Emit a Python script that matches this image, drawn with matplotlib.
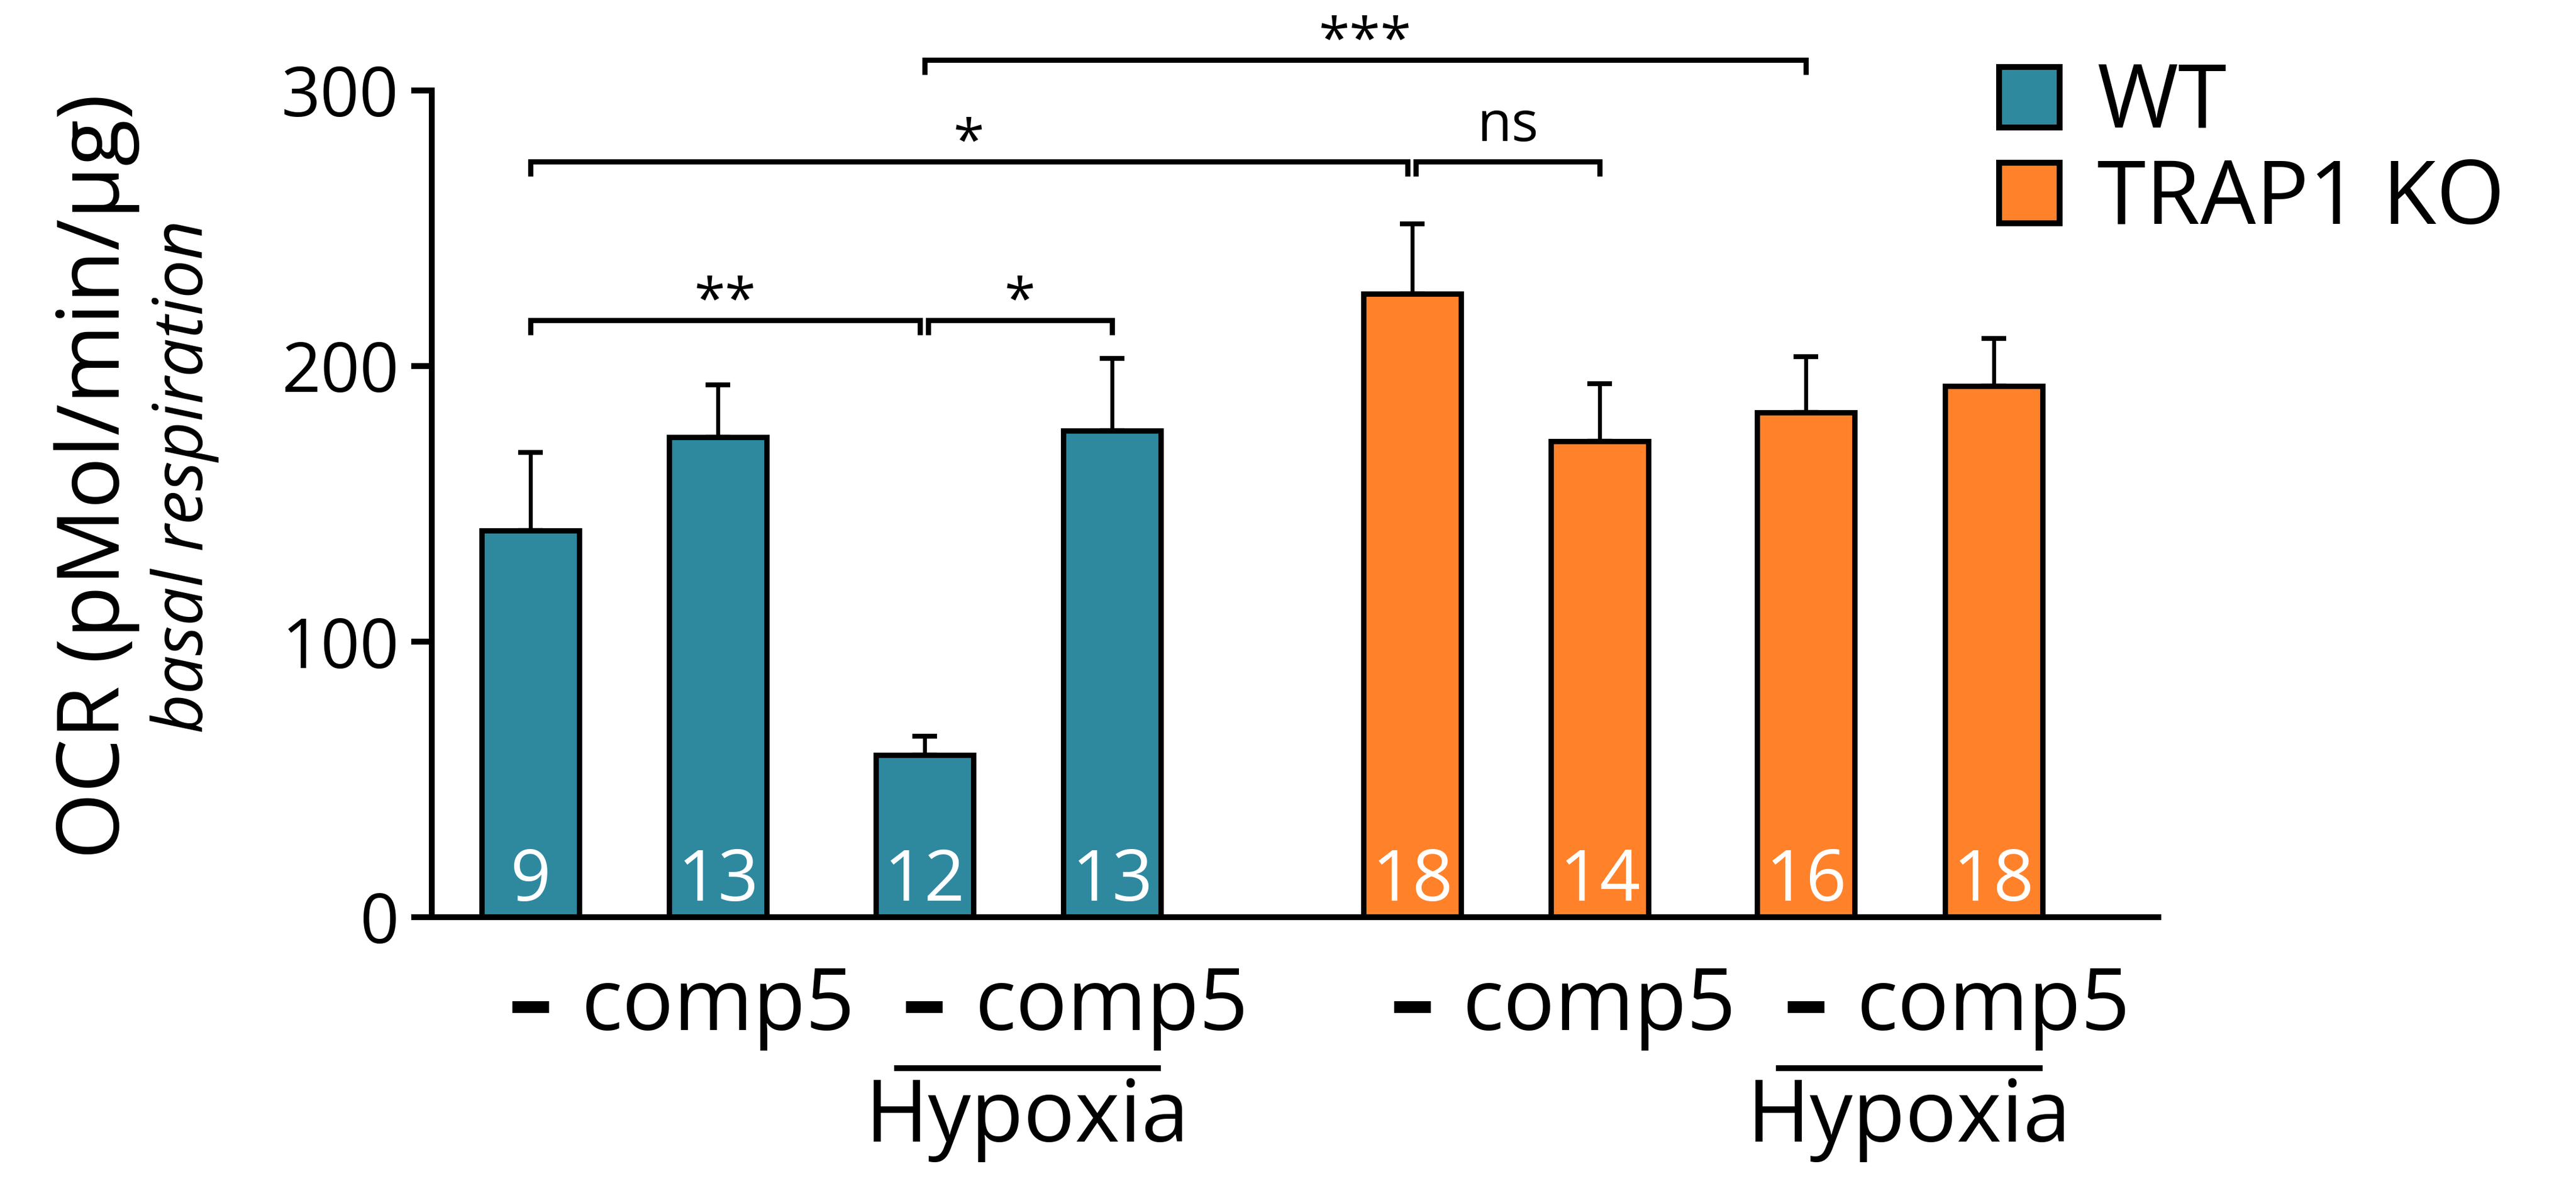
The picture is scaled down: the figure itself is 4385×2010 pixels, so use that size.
import matplotlib
matplotlib.use("Agg")
import matplotlib.pyplot as plt
import matplotlib.transforms as mtransforms
from matplotlib.patches import Rectangle
import numpy as np

plt.rcParams['font.family'] = ['Open Sans', 'DejaVu Sans']

# ---------------- data ----------------
genotypes = ['WT', 'TRAP1 KO']
treatments = ['–', 'comp5', '–', 'comp5']
condition_label = 'Hypoxia'
wt_mean = [140.3, 174.2, 58.8, 176.5]
wt_sem = [28.3, 19.0, 6.9, 26.3]
wt_n = [9, 13, 12, 13]
ko_mean = [226.3, 172.8, 183.1, 192.8]
ko_sem = [25.3, 20.7, 20.4, 17.2]
ko_n = [18, 14, 16, 18]
# (bar i, bar j, label, bracket height)
comparisons = [(0, 2, '**', 216.6), (2, 3, '*', 216.6),
               (0, 4, '*', 274.1), (4, 5, 'ns', 274.1),
               (2, 6, '***', 311.1)]
y_ticks = [0, 100, 200, 300]
y_label = 'OCR (pMol/min/µg)'
y_sublabel = 'basal respiration'

colors = ['#2E899F', '#FF822B']

# ---------------- layout ----------------
W, H = 4385, 2010
fig = plt.figure(figsize=(W / 300, H / 300), dpi=300)
ax = fig.add_axes([735 / W, 1 - 1561 / H, (3674 - 735) / W, (1561 - 154) / H])

within = [0.0, 1.0, 2.1, 3.1]
group_off = 4.7
pos = [g * group_off + o for g in range(2) for o in within]
means = wt_mean + ko_mean
sems = wt_sem + ko_sem
ns_ = wt_n + ko_n
bar_cols = [colors[0]] * 4 + [colors[1]] * 4

ax.errorbar(pos, means, yerr=[np.zeros(len(sems)), sems], fmt='none',
            ecolor='black', elinewidth=1.6, capsize=5, capthick=2.0, zorder=1)
ax.bar(pos, means, width=0.52, color=bar_cols, edgecolor='black',
       linewidth=2.2, zorder=2)

for x, n in zip(pos, ns_):
    ax.text(x, 6.0, str(n), color='white', fontsize=29, ha='center',
            va='baseline', zorder=3)

ax.set_xlim(-0.526, 8.678)
ax.set_ylim(0, 300)
ax.set_yticks(y_ticks)
ax.set_yticklabels([str(t) for t in y_ticks], fontsize=28)
ax.tick_params(axis='y', length=8.4, width=2.4, pad=5)
ax.tick_params(axis='x', length=0, labelbottom=False)
for s in ['top', 'right']:
    ax.spines[s].set_visible(False)
for s in ['left', 'bottom']:
    ax.spines[s].set_linewidth(2.4)
    ax.spines[s].set_zorder(4)

# x category labels
trans = mtransforms.blended_transform_factory(ax.transData, fig.transFigure)
for x, lab in zip(pos, treatments * 2):
    ax.text(x, 1 - 1753 / H, lab, transform=trans, fontsize=35, ha='center',
            va='baseline', fontweight='heavy' if lab == '–' else 'normal')
# hypoxia lines
for g in range(2):
    x0 = pos[g * 4 + 2] - 0.16
    x1 = pos[g * 4 + 3] + 0.26
    ax.plot([x0, x1], [1 - 1818 / H] * 2, transform=trans, color='black',
            lw=2.4, clip_on=False, solid_capstyle='butt')
    ax.text((x0 + x1) / 2, 1 - 1943 / H, condition_label, transform=trans,
            fontsize=35, ha='center', va='baseline')

# y labels
fig.text(165 / W, 1 - 811 / H, y_label, rotation=90, fontsize=35,
         ha='center', va='center')
fig.text(314 / W, 1 - 811 / H, y_sublabel, rotation=90, fontsize=28,
         style='italic', ha='center', va='center')

# significance brackets
ends = {}
for i, j, lab, h in comparisons:
    ends.setdefault((i, h), []).append('L')
    ends.setdefault((j, h), []).append('R')
for i, j, lab, h in comparisons:
    xi, xj = pos[i], pos[j]
    if len(ends[(i, h)]) > 1:
        xi += 0.02
    if len(ends[(j, h)]) > 1:
        xj -= 0.025
    ax.plot([xi, xi, xj, xj], [h - 5.3, h, h, h - 5.3], color='black', lw=2.1,
            clip_on=False, solid_capstyle='butt', solid_joinstyle='miter')
    ty = h + 7.5 if lab == 'ns' else h + 0.8
    ax.text((xi + xj) / 2, ty, lab, fontsize=23, ha='center', va='baseline',
            clip_on=False)

# legend
rows_top = [114, 277]
for k, (lab, col) in enumerate(zip(genotypes, colors)):
    top = rows_top[k]
    fig.patches.append(Rectangle((3403 / W, 1 - (top + 103) / H), 103 / W, 103 / H,
                                 transform=fig.transFigure, facecolor=col,
                                 edgecolor='black', linewidth=2.4))
    fig.text(3570 / W, 1 - (top + 104) / H, lab, fontsize=36, ha='left',
             va='baseline')

fig.savefig('out.png', dpi=300, facecolor='white')
